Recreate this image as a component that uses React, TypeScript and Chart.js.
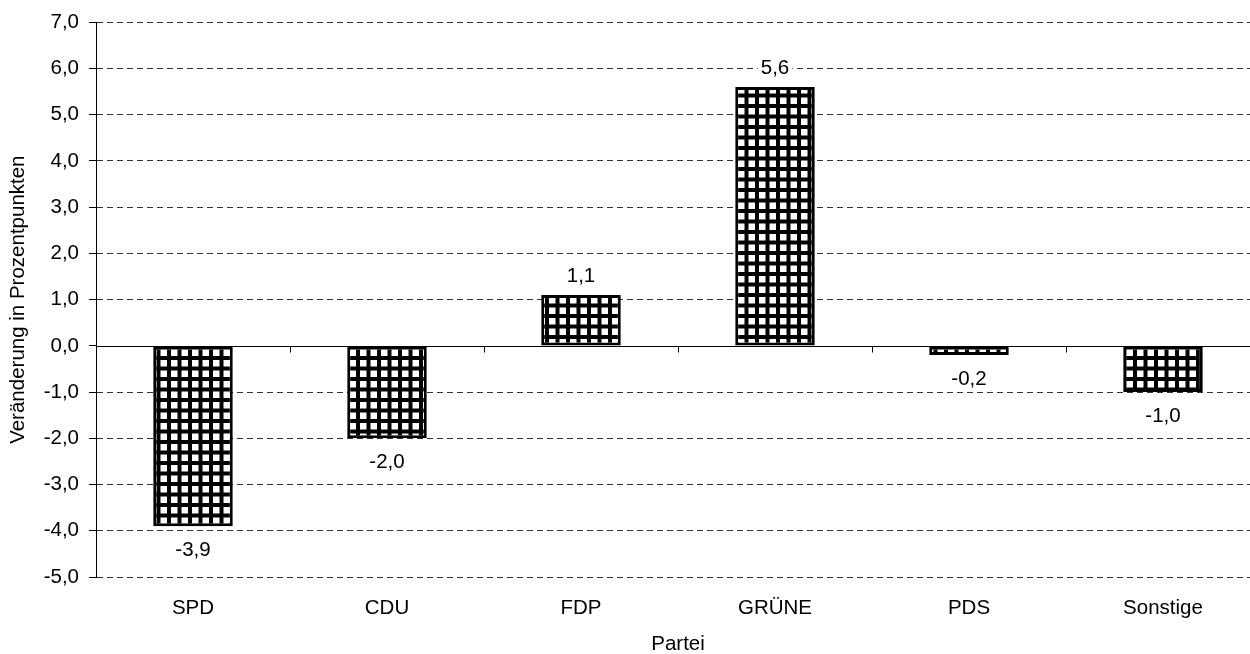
import React, { useEffect, useRef } from "react";
import { Chart, registerables } from "chart.js";

Chart.register(...registerables);

const categories = ["SPD", "CDU", "FDP", "GRÜNE", "PDS", "Sonstige"];
const changes = [-3.9, -2.0, 1.1, 5.6, -0.2, -1.0];
const yMin = -5;
const yMax = 7;
const yStep = 1;
const yTitle = "Veränderung in Prozentpunkten";
const xTitle = "Partei";

const FONT = "'Liberation Sans', Arial, sans-serif";
const FS = 20.5;
const fmt = (v: number) => v.toFixed(1).replace(".", ",");

function makePattern(target: CanvasRenderingContext2D): CanvasPattern | string {
  const c = document.createElement("canvas");
  c.width = 21;
  c.height = 21;
  const g = c.getContext("2d");
  if (!g) return "#888";
  g.fillStyle = "#000";
  g.fillRect(0, 0, 21, 21);
  g.fillStyle = "#fff";
  const cells = [3, 13.5];
  for (const x of cells) {
    for (const y of cells) {
      g.fillRect(x, y, 6.5, 6.5);
    }
  }
  return target.createPattern(c, "repeat") || "#888";
}

const zeroLinePlugin = {
  id: "zeroLine",
  beforeDatasetsDraw(chart: any) {
    const { ctx, chartArea, scales } = chart;
    const y = Math.round(scales.y.getPixelForValue(0)) + 0.5;
    ctx.save();
    ctx.strokeStyle = "#000";
    ctx.lineWidth = 1;
    ctx.setLineDash([]);
    ctx.beginPath();
    ctx.moveTo(chartArea.left, y);
    ctx.lineTo(chartArea.right, y);
    const n = categories.length;
    const w = (chartArea.right - chartArea.left) / n;
    for (let i = 1; i <= n; i++) {
      const x = Math.round(chartArea.left + i * w) + 0.5;
      ctx.moveTo(x, y);
      ctx.lineTo(x, y + 6);
    }
    ctx.stroke();
    ctx.restore();
  },
};

const labelPlugin = {
  id: "barLabels",
  afterDatasetsDraw(chart: any) {
    const { ctx } = chart;
    const meta = chart.getDatasetMeta(0);
    ctx.save();
    ctx.font = `${FS}px ${FONT}`;
    ctx.textAlign = "center";
    ctx.textBaseline = "middle";
    meta.data.forEach((bar: any, i: number) => {
      const v = changes[i];
      const text = fmt(v);
      const y = v >= 0 ? bar.y - 19 : bar.y + 24;
      const tw = ctx.measureText(text).width;
      ctx.fillStyle = "#fff";
      ctx.fillRect(bar.x - tw / 2 - 3, y - 12, tw + 6, 24);
      ctx.fillStyle = "#000";
      ctx.fillText(text, bar.x, y);
    });
    ctx.restore();
  },
};

export default function App() {
  const canvasRef = useRef<HTMLCanvasElement | null>(null);

  useEffect(() => {
    const canvas = canvasRef.current;
    if (!canvas) return;
    const ctx = canvas.getContext("2d");
    if (!ctx) return;
    const pattern = makePattern(ctx);

    const chart = new Chart(ctx, {
      type: "bar",
      data: {
        labels: categories,
        datasets: [
          {
            data: changes,
            backgroundColor: pattern as any,
            borderColor: "#000",
            borderWidth: 3,
            borderSkipped: false,
            barPercentage: 0.41,
            categoryPercentage: 1,
          },
        ],
      },
      options: {
        responsive: false,
        animation: false,
        layout: { padding: { top: 22, right: 2, left: 0, bottom: 0 } },
        plugins: {
          legend: { display: false },
          tooltip: { enabled: false },
        },
        scales: {
          x: {
            grid: { display: false, drawTicks: false },
            border: { display: false },
            ticks: {
              color: "#000",
              font: { family: FONT, size: FS },
              padding: 19,
              maxRotation: 0,
            },
            title: {
              display: true,
              text: xTitle,
              color: "#000",
              font: { family: FONT, size: FS },
              padding: { top: 0, bottom: -3 },
            },
            afterFit: (scale: any) => {
              scale.height = 654 - 577;
            },
          },
          y: {
            min: yMin,
            max: yMax,
            grid: {
              color: (c: any) => (c.tick && c.tick.value === 0 ? "rgba(0,0,0,0)" : "#333"),
              lineWidth: 1,
              drawTicks: true,
              tickLength: 7,
              tickColor: "#000",
              tickBorderDash: [],
            },
            border: { display: true, color: "#000", width: 1, dash: [6, 4] },
            ticks: {
              stepSize: yStep,
              color: "#000",
              font: { family: FONT, size: FS },
              padding: 10,
              callback: (v: any) => fmt(Number(v)),
            },
            title: {
              display: true,
              text: yTitle,
              color: "#000",
              font: { family: FONT, size: FS },
              padding: { top: 6, bottom: 0 },
            },
            afterFit: (scale: any) => {
              scale.width = 96;
            },
          },
        },
      },
      plugins: [zeroLinePlugin, labelPlugin],
    });

    return () => chart.destroy();
  }, []);

  return (
    <div
      style={{
        position: "fixed",
        left: 0,
        top: 0,
        width: 1250,
        height: 654,
        overflow: "hidden",
        background: "#fff",
      }}
    >
      <canvas ref={canvasRef} width={1262} height={654} style={{ display: "block" }} />
    </div>
  );
}
